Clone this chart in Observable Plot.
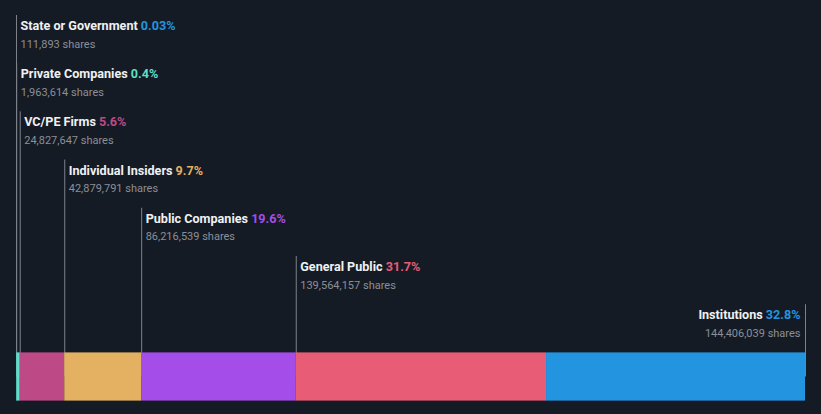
<!DOCTYPE html>
<html>
<head>
<meta charset="utf-8">
<script src="https://cdn.jsdelivr.net/npm/d3@7"></script>
<script src="https://cdn.jsdelivr.net/npm/@observablehq/plot@0.6"></script>
<style>
  html, body { margin: 0; padding: 0; background: #151b25; }
  #chart svg { display: block; }
</style>
</head>
<body>
<div id="chart"></div>
<script>
const names = ["State or Government", "Private Companies", "VC/PE Firms", "Individual Insiders", "Public Companies", "General Public", "Institutions"];
const pcts = [0.03, 0.4, 5.6, 9.7, 19.6, 31.7, 32.8];
const shares = [111893, 1963614, 24827647, 42879791, 86216539, 139564157, 144406039];
const colors = ["#2394df", "#5fdec8", "#bd4a87", "#e4b062", "#a54de8", "#e85c76", "#2394df"];

let acc = 0;
const rows = names.map((name, i) => {
  const start = acc;
  acc += shares[i];
  return {
    name, i,
    pct: pcts[i] + "%",
    shares: d3.format(",")(shares[i]) + " shares",
    start, end: acc,
    color: colors[i],
    anchorX: i === names.length - 1 ? acc : start
  };
});
const total = acc;
const leftRows = rows.slice(0, rows.length - 1);
const rightRows = rows.slice(rows.length - 1);

const titleFont = {fontFamily: "Roboto", fontSize: 12.6, fontWeight: "bold"};
const subFont = {fontFamily: "Roboto", fontSize: 11};

const chart = Plot.plot({
  width: 821,
  height: 414,
  marginLeft: 16,
  marginRight: 16,
  marginTop: 0,
  marginBottom: 0,
  style: {background: "#151b25", color: "#fff"},
  x: {domain: [0, total], axis: null},
  y: {domain: [0, 8], range: [15, 400.6], axis: null},
  marks: [
    Plot.ruleX(rows, {x: "anchorX", y1: "i", y2: () => 7.5, stroke: "#7d8189", strokeWidth: 1}),
    Plot.rect(rows, {x1: "start", x2: "end", y1: () => 7, y2: () => 8, fill: "color"}),
    Plot.text(leftRows, {x: "anchorX", y: "i", text: d => d.name + "|" + d.pct, textAnchor: "start", lineAnchor: "bottom", dx: 4, dy: 14.5, fill: "#f0f1f2", ...titleFont}),
    Plot.text(rightRows, {x: "anchorX", y: "i", text: d => d.name + "|" + d.pct, textAnchor: "end", lineAnchor: "bottom", dx: -5, dy: 14.5, fill: "#f0f1f2", ...titleFont}),
    Plot.text(leftRows, {x: "anchorX", y: "i", text: "shares", textAnchor: "start", lineAnchor: "bottom", dx: 4, dy: 32, fill: "#8b8f97", ...subFont}),
    Plot.text(rightRows, {x: "anchorX", y: "i", text: "shares", textAnchor: "end", lineAnchor: "bottom", dx: -5, dy: 32, fill: "#8b8f97", ...subFont})
  ]
});

// color the percentage part of each title
const colorByName = new Map(rows.map(r => [r.name, r.color]));
chart.querySelectorAll('text').forEach(t => {
  if (!t.textContent.includes("|")) return;
  const [name, pct] = t.textContent.split("|");
  t.textContent = "";
  const a = document.createElementNS("http://www.w3.org/2000/svg", "tspan");
  a.textContent = name + " ";
  const b = document.createElementNS("http://www.w3.org/2000/svg", "tspan");
  b.textContent = pct;
  b.setAttribute("fill", colorByName.get(name));
  t.appendChild(a);
  t.appendChild(b);
});

document.getElementById("chart").appendChild(chart);
</script>
</body>
</html>
